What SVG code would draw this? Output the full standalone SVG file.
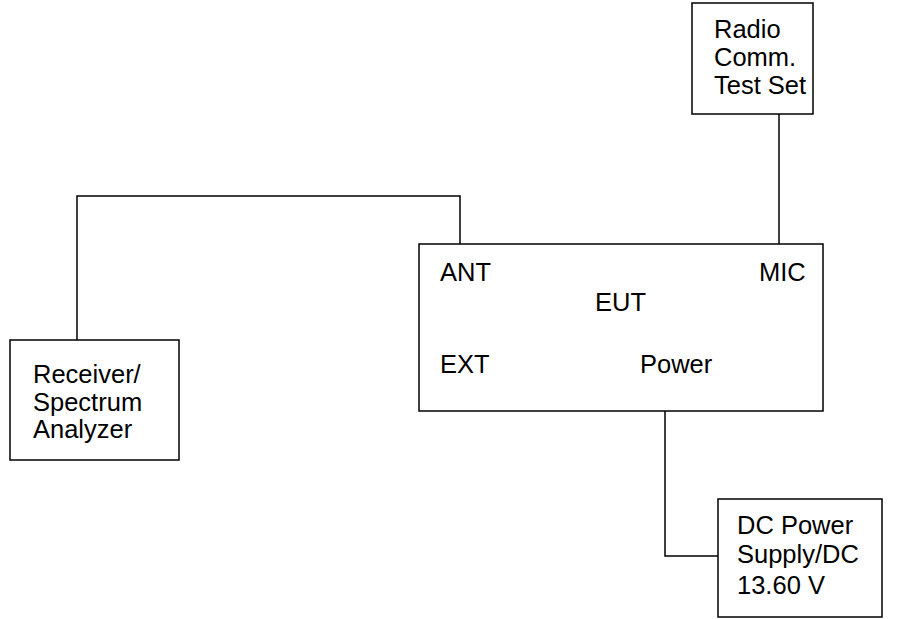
<svg xmlns="http://www.w3.org/2000/svg" width="907" height="619" viewBox="0 0 907 619">
<style>
.box{fill:#fff;stroke:#000;stroke-width:1.5}
.ln{fill:none;stroke:#000;stroke-width:1.5}
text{font-family:"Liberation Sans",Arial,sans-serif;font-size:25.5px;fill:#000}
</style>
<rect width="907" height="619" fill="#fff"/>
<g id="connectors">
<polyline class="ln" points="77,340 77,196 460,196 460,244"/>
<line class="ln" x1="779" y1="114" x2="779" y2="244"/>
<polyline class="ln" points="665,411 665,556 718,556"/>
</g>
<g id="radio">
<rect class="box" x="692" y="3" width="121" height="111"/>
<text x="714" y="38">Radio</text>
<text x="714" y="66">Comm.</text>
<text x="714" y="94">Test Set</text>
</g>
<g id="eut">
<rect class="box" x="419" y="244" width="404" height="167"/>
<text x="440" y="281">ANT</text>
<text x="759" y="281">MIC</text>
<text x="595" y="311">EUT</text>
<text x="440" y="373">EXT</text>
<text x="640" y="373">Power</text>
</g>
<g id="receiver">
<rect class="box" x="10" y="340" width="169" height="120"/>
<text x="33" y="383">Receiver/</text>
<text x="33" y="411">Spectrum</text>
<text x="33" y="438">Analyzer</text>
</g>
<g id="dcpower">
<rect class="box" x="718" y="499" width="164" height="118"/>
<text x="737" y="534">DC Power</text>
<text x="737" y="563">Supply/DC</text>
<text x="737" y="594">13.60 V</text>
</g>
</svg>
